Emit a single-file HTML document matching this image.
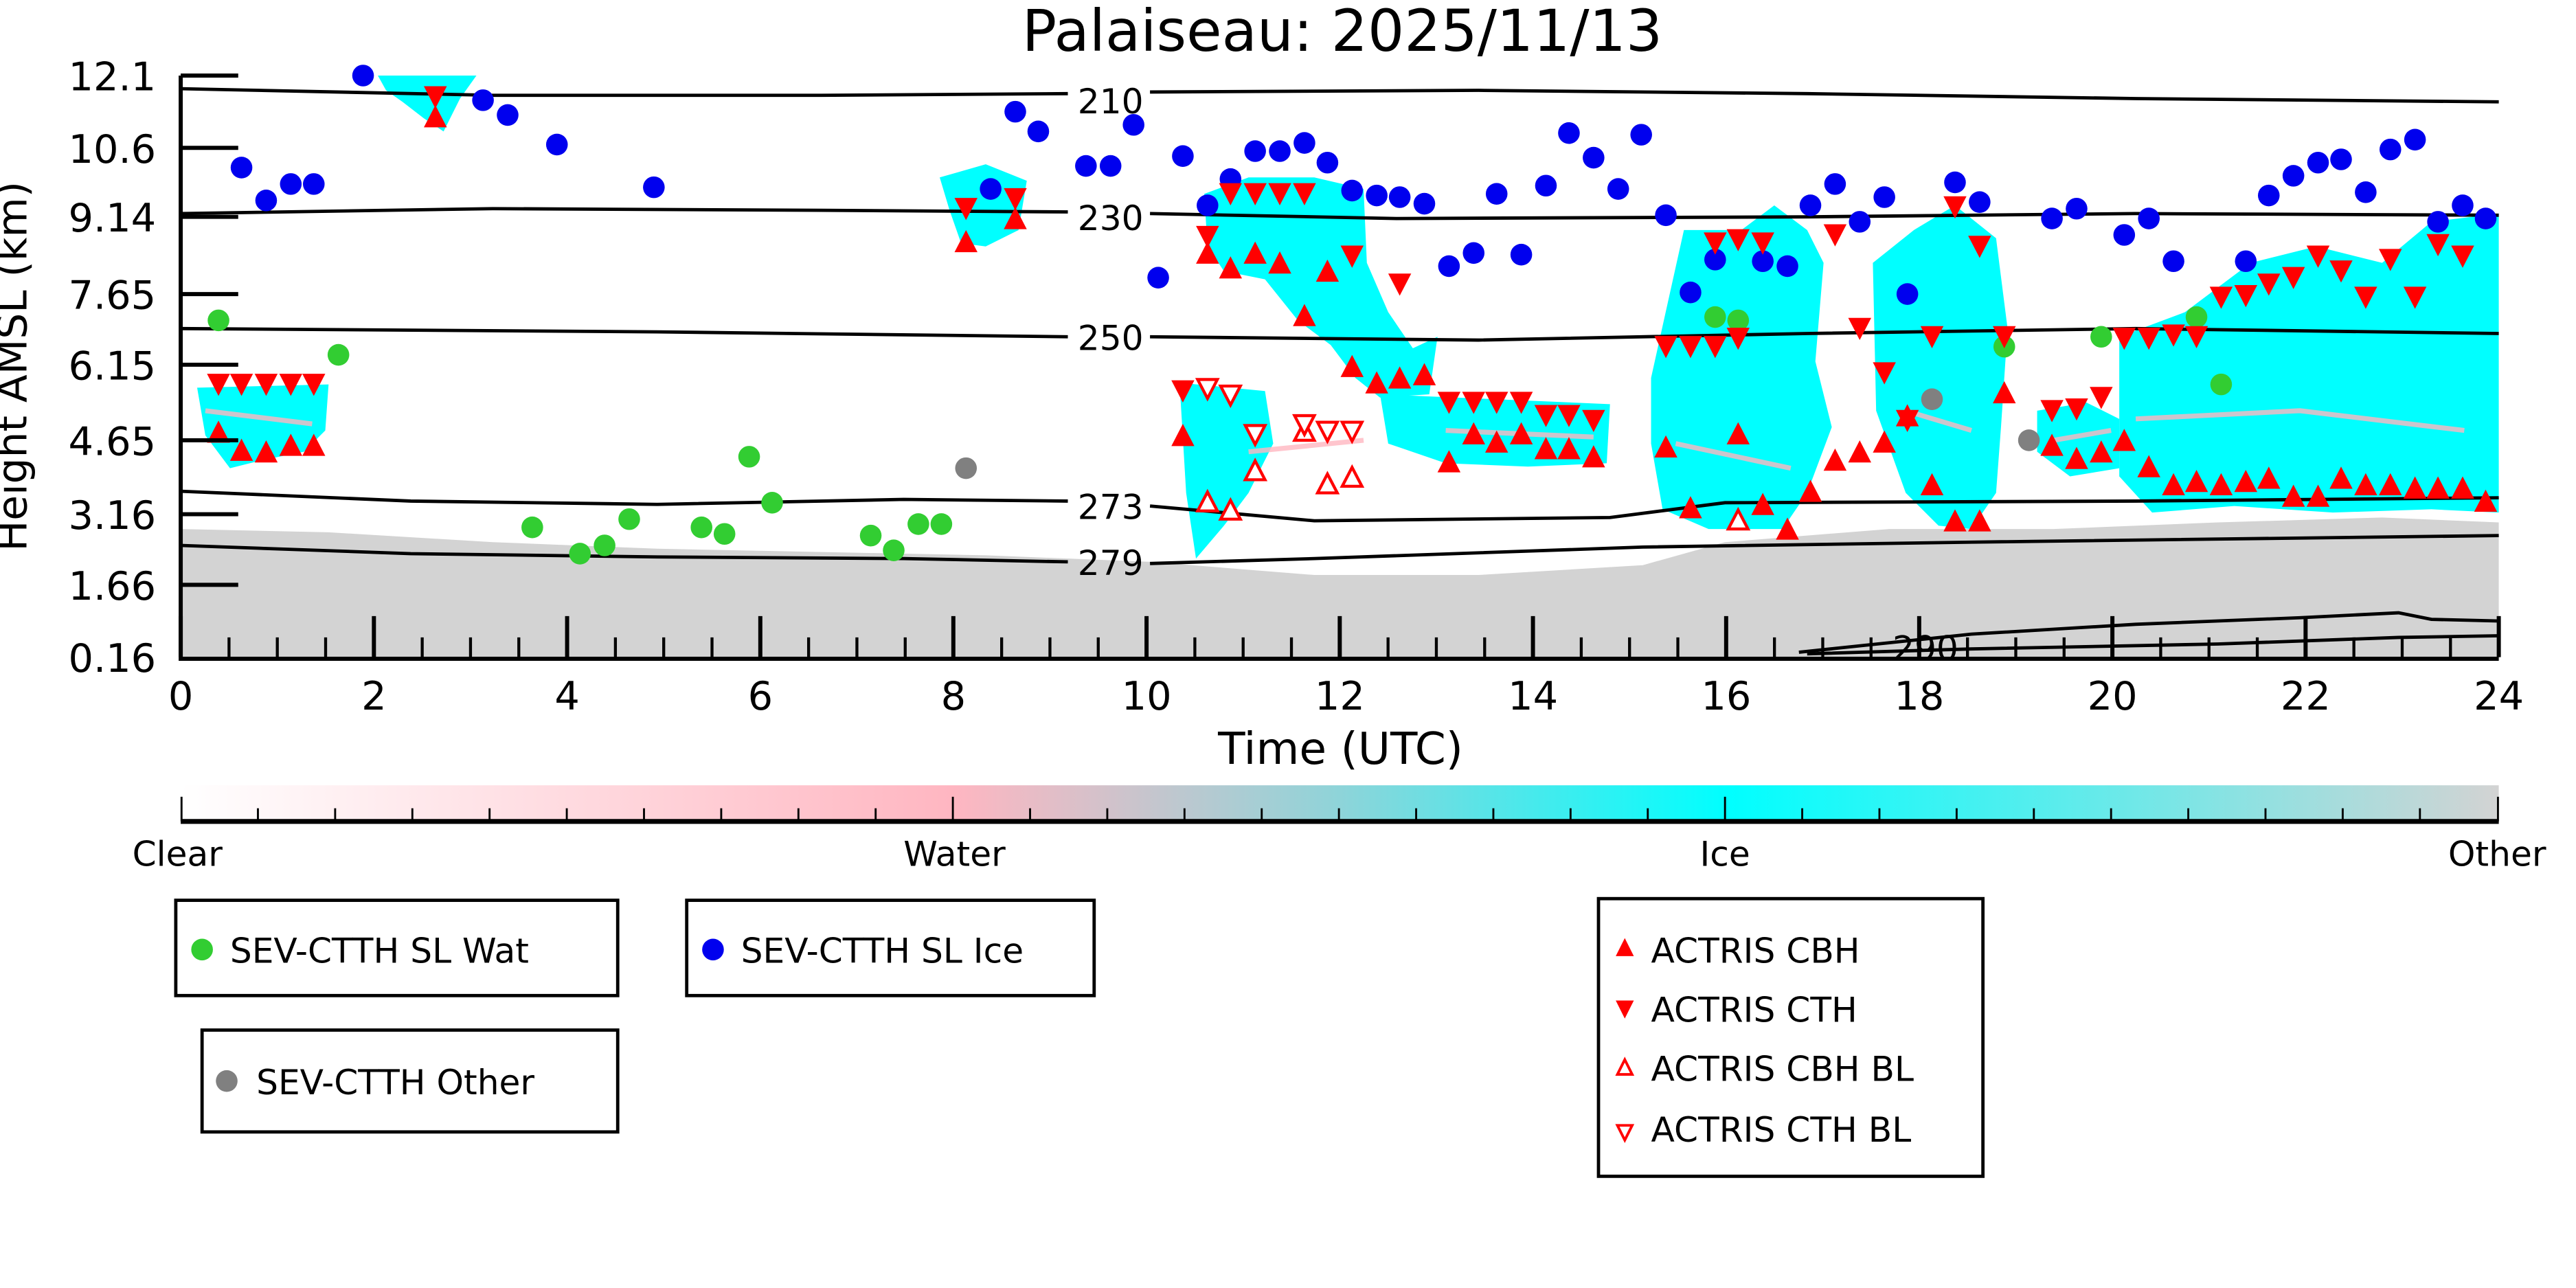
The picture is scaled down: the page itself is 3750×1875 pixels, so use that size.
<!DOCTYPE html>
<html><head><meta charset="utf-8"><style>html,body{margin:0;padding:0;background:#fff}svg{display:block}text{font-family:"DejaVu Sans","Liberation Sans",sans-serif}</style></head><body>
<svg width="3750" height="1875" viewBox="0 0 1568 784" xmlns="http://www.w3.org/2000/svg">
<defs>
<linearGradient id="cb" x1="0" x2="1" y1="0" y2="0"><stop offset="0" stop-color="#fff"/><stop offset="0.333" stop-color="#ffb6c1"/><stop offset="0.5" stop-color="#8ed4d9"/><stop offset="0.667" stop-color="#00ffff"/><stop offset="1" stop-color="#d3d3d3"/></linearGradient>
<symbol id="g" overflow="visible"><circle r="6.6" fill="#32cd32"/></symbol>
<symbol id="b" overflow="visible"><circle r="6.6" fill="#0000ee"/></symbol>
<symbol id="o" overflow="visible"><circle r="6.6" fill="#808080"/></symbol>
<symbol id="u" overflow="visible"><path d="M0,-8 L7,5.5 L-7,5.5Z" fill="red"/></symbol>
<symbol id="d" overflow="visible"><path d="M0,8 L7,-5.5 L-7,-5.5Z" fill="red"/></symbol>
<symbol id="uh" overflow="visible"><path d="M0,-6.5 L6,5 L-6,5Z" fill="#fff" stroke="red" stroke-width="1.8"/></symbol>
<symbol id="dh" overflow="visible"><path d="M0,6.5 L6,-5 L-6,-5Z" fill="#fff" stroke="red" stroke-width="1.8"/></symbol>
</defs>
<text x="817" y="31" font-size="35" text-anchor="middle">Palaiseau: 2025/11/13</text>
<path d="M110,400 L110,322 L200,324 L300,330 L400,334 L500,336 L600,338 L700,342 L800,350 L900,350 L1000,344 L1050,330 L1150,322 L1250,322 L1350,318 L1450,315 L1521,318 L1521,400Z" fill="#d3d3d3"/>
<g fill="#00ffff">
<path d="M120,236 L200,234 L198,262 L185,275 L160,280 L140,285 L125,265Z"/>
<path d="M230,46 L290,46 L280,60 L270,80 L258,72 L245,62 L235,55Z"/>
<path d="M572,108 L600,100 L625,110 L620,140 L600,150 L585,148 L578,128Z"/>
<path d="M718,233 L770,238 L775,270 L760,300 L745,320 L728,340 L722,300Z"/>
<path d="M733,118 L760,108 L800,108 L830,115 L832,160 L845,190 L860,212 L875,205 L870,240 L840,242 L825,230 L810,210 L790,195 L770,170 L745,165 L735,150Z"/>
<path d="M840,240 L980,246 L978,282 L930,284 L880,282 L845,270Z"/>
<path d="M1005,230 L1025,140 L1060,140 L1080,125 L1100,140 L1110,160 L1105,220 L1115,260 L1100,300 L1085,322 L1040,322 L1012,310 L1005,270Z"/>
<path d="M1140,160 L1165,140 L1190,125 L1215,145 L1222,200 L1218,260 L1215,300 L1200,322 L1180,320 L1160,300 L1142,250Z"/>
<path d="M1240,250 L1270,245 L1290,255 L1290,285 L1260,290 L1240,275Z"/>
<path d="M1290,205 L1330,190 L1370,160 L1410,150 L1450,160 L1480,135 L1521,130 L1521,312 L1480,310 L1420,312 L1360,308 L1310,312 L1290,290Z"/>
</g>
<g stroke="#ffb6c1" stroke-width="3" fill="none" opacity="0.8">
<path d="M125,250 L190,258"/><path d="M760,275 L830,268"/><path d="M880,262 L970,266"/><path d="M1020,270 L1090,285"/><path d="M1250,268 L1285,262"/><path d="M1300,255 L1400,250 L1500,262"/><path d="M1160,250 L1200,262"/>
</g>
<g stroke="#000" stroke-width="2" fill="none">
<path d="M110,54 L300,58 L500,58 L650,57 M700,56 L900,55 L1100,57 L1300,60 L1521,62"/>
<path d="M110,130 L300,127 L500,128 L650,129 M700,130 L850,133 L1100,132 L1300,130 L1521,131"/>
<path d="M110,200 L400,202 L650,205 M700,205 L900,207 L1100,203 L1300,200 L1521,203"/>
<path d="M110,299 L250,305 L400,307 L550,304 L650,305 M700,308 L800,317 L980,315 L1050,306 L1300,305 L1521,303"/>
<path d="M110,332 L250,337 L400,339 L550,340 L650,342 M700,343 L800,340 L1000,333 L1200,330 L1521,326"/>
<path d="M1095,397 L1200,386 L1300,380 L1400,376 L1460,373 L1480,377 L1521,378"/>
<path d="M1100,398 L1200,395 L1350,392 L1460,388 L1521,387"/>
</g>
<g font-size="21" text-anchor="middle"><text x="676" y="69">210</text><text x="676" y="140">230</text><text x="676" y="213">250</text><text x="676" y="316">273</text><text x="676" y="350">279</text><text x="1172" y="402">290</text></g>
<g>
<use href="#g" x="133" y="195"/><use href="#g" x="206" y="216"/><use href="#g" x="324" y="321"/><use href="#g" x="353" y="337"/><use href="#g" x="368" y="332"/><use href="#g" x="383" y="316"/><use href="#g" x="427" y="321"/><use href="#g" x="441" y="325"/><use href="#g" x="456" y="278"/><use href="#g" x="470" y="306"/><use href="#g" x="530" y="326"/><use href="#g" x="544" y="335"/><use href="#g" x="559" y="319"/><use href="#g" x="573" y="319"/><use href="#g" x="1044" y="193"/><use href="#g" x="1058" y="195"/><use href="#g" x="1220" y="211"/><use href="#g" x="1279" y="205"/><use href="#g" x="1337" y="193"/><use href="#g" x="1352" y="234"/>
<use href="#o" x="588" y="285"/><use href="#o" x="1176" y="243"/><use href="#o" x="1235" y="268"/>
<use href="#b" x="147" y="102"/><use href="#b" x="162" y="122"/><use href="#b" x="177" y="112"/><use href="#b" x="191" y="112"/><use href="#b" x="221" y="46"/><use href="#b" x="294" y="61"/><use href="#b" x="309" y="70"/><use href="#b" x="339" y="88"/><use href="#b" x="398" y="114"/><use href="#b" x="618" y="68"/><use href="#b" x="632" y="80"/><use href="#b" x="603" y="115"/><use href="#b" x="661" y="101"/><use href="#b" x="676" y="101"/><use href="#b" x="690" y="76"/><use href="#b" x="705" y="169"/><use href="#b" x="720" y="95"/><use href="#b" x="735" y="125"/><use href="#b" x="749" y="109"/><use href="#b" x="764" y="92"/><use href="#b" x="779" y="92"/><use href="#b" x="794" y="87"/><use href="#b" x="808" y="99"/><use href="#b" x="823" y="116"/><use href="#b" x="838" y="119"/><use href="#b" x="852" y="120"/><use href="#b" x="867" y="124"/><use href="#b" x="882" y="162"/><use href="#b" x="897" y="154"/><use href="#b" x="926" y="155"/><use href="#b" x="911" y="118"/><use href="#b" x="941" y="113"/><use href="#b" x="955" y="81"/><use href="#b" x="970" y="96"/><use href="#b" x="985" y="115"/><use href="#b" x="999" y="82"/><use href="#b" x="1014" y="131"/><use href="#b" x="1029" y="178"/><use href="#b" x="1044" y="158"/><use href="#b" x="1073" y="159"/><use href="#b" x="1088" y="162"/><use href="#b" x="1102" y="125"/><use href="#b" x="1117" y="112"/><use href="#b" x="1132" y="135"/><use href="#b" x="1147" y="120"/><use href="#b" x="1161" y="179"/><use href="#b" x="1190" y="111"/><use href="#b" x="1205" y="123"/><use href="#b" x="1249" y="133"/><use href="#b" x="1264" y="127"/><use href="#b" x="1293" y="143"/><use href="#b" x="1308" y="133"/><use href="#b" x="1323" y="159"/><use href="#b" x="1367" y="159"/><use href="#b" x="1381" y="119"/><use href="#b" x="1396" y="107"/><use href="#b" x="1411" y="99"/><use href="#b" x="1425" y="97"/><use href="#b" x="1440" y="117"/><use href="#b" x="1455" y="91"/><use href="#b" x="1470" y="85"/><use href="#b" x="1484" y="135"/><use href="#b" x="1499" y="125"/><use href="#b" x="1513" y="133"/>
<use href="#u" x="133" y="264"/><use href="#u" x="147" y="275"/><use href="#u" x="162" y="276"/><use href="#u" x="177" y="272"/><use href="#u" x="191" y="272"/><use href="#u" x="265" y="72"/><use href="#u" x="588" y="148"/><use href="#u" x="618" y="134"/><use href="#u" x="720" y="266"/><use href="#u" x="735" y="155"/><use href="#u" x="749" y="164"/><use href="#u" x="764" y="155"/><use href="#u" x="779" y="161"/><use href="#u" x="794" y="193"/><use href="#u" x="808" y="166"/><use href="#u" x="823" y="224"/><use href="#u" x="838" y="234"/><use href="#u" x="852" y="231"/><use href="#u" x="867" y="229"/><use href="#u" x="882" y="282"/><use href="#u" x="897" y="265"/><use href="#u" x="911" y="270"/><use href="#u" x="926" y="265"/><use href="#u" x="941" y="274"/><use href="#u" x="955" y="274"/><use href="#u" x="970" y="279"/><use href="#u" x="1014" y="273"/><use href="#u" x="1029" y="310"/><use href="#u" x="1058" y="265"/><use href="#u" x="1073" y="308"/><use href="#u" x="1088" y="323"/><use href="#u" x="1102" y="300"/><use href="#u" x="1117" y="281"/><use href="#u" x="1132" y="276"/><use href="#u" x="1147" y="270"/><use href="#u" x="1161" y="254"/><use href="#u" x="1176" y="296"/><use href="#u" x="1190" y="318"/><use href="#u" x="1205" y="318"/><use href="#u" x="1220" y="240"/><use href="#u" x="1249" y="272"/><use href="#u" x="1264" y="280"/><use href="#u" x="1279" y="276"/><use href="#u" x="1293" y="269"/><use href="#u" x="1308" y="285"/><use href="#u" x="1323" y="296"/><use href="#u" x="1337" y="294"/><use href="#u" x="1352" y="296"/><use href="#u" x="1367" y="294"/><use href="#u" x="1381" y="292"/><use href="#u" x="1396" y="303"/><use href="#u" x="1411" y="303"/><use href="#u" x="1425" y="292"/><use href="#u" x="1440" y="296"/><use href="#u" x="1455" y="296"/><use href="#u" x="1470" y="298"/><use href="#u" x="1484" y="298"/><use href="#u" x="1499" y="298"/><use href="#u" x="1513" y="306"/>
<use href="#d" x="133" y="233"/><use href="#d" x="147" y="233"/><use href="#d" x="162" y="233"/><use href="#d" x="177" y="233"/><use href="#d" x="191" y="233"/><use href="#d" x="265" y="58"/><use href="#d" x="588" y="126"/><use href="#d" x="618" y="120"/><use href="#d" x="720" y="237"/><use href="#d" x="735" y="143"/><use href="#d" x="749" y="117"/><use href="#d" x="764" y="117"/><use href="#d" x="779" y="117"/><use href="#d" x="794" y="117"/><use href="#d" x="823" y="155"/><use href="#d" x="852" y="172"/><use href="#d" x="882" y="244"/><use href="#d" x="897" y="244"/><use href="#d" x="911" y="244"/><use href="#d" x="926" y="244"/><use href="#d" x="941" y="252"/><use href="#d" x="955" y="252"/><use href="#d" x="970" y="255"/><use href="#d" x="1014" y="210"/><use href="#d" x="1029" y="210"/><use href="#d" x="1044" y="210"/><use href="#d" x="1058" y="205"/><use href="#d" x="1073" y="147"/><use href="#d" x="1058" y="145"/><use href="#d" x="1044" y="147"/><use href="#d" x="1117" y="142"/><use href="#d" x="1132" y="199"/><use href="#d" x="1147" y="226"/><use href="#d" x="1161" y="255"/><use href="#d" x="1176" y="204"/><use href="#d" x="1190" y="125"/><use href="#d" x="1205" y="149"/><use href="#d" x="1220" y="204"/><use href="#d" x="1249" y="249"/><use href="#d" x="1264" y="248"/><use href="#d" x="1279" y="241"/><use href="#d" x="1293" y="205"/><use href="#d" x="1308" y="205"/><use href="#d" x="1323" y="203"/><use href="#d" x="1337" y="204"/><use href="#d" x="1352" y="180"/><use href="#d" x="1367" y="179"/><use href="#d" x="1381" y="172"/><use href="#d" x="1396" y="168"/><use href="#d" x="1411" y="155"/><use href="#d" x="1425" y="164"/><use href="#d" x="1440" y="180"/><use href="#d" x="1455" y="157"/><use href="#d" x="1470" y="180"/><use href="#d" x="1484" y="148"/><use href="#d" x="1499" y="155"/>
<use href="#uh" x="735" y="306"/><use href="#uh" x="749" y="311"/><use href="#uh" x="764" y="287"/><use href="#uh" x="794" y="263"/><use href="#uh" x="808" y="295"/><use href="#uh" x="823" y="291"/><use href="#uh" x="1058" y="317"/>
<use href="#dh" x="735" y="236"/><use href="#dh" x="749" y="240"/><use href="#dh" x="764" y="264"/><use href="#dh" x="794" y="258"/><use href="#dh" x="808" y="262"/><use href="#dh" x="823" y="262"/>
</g>
<g stroke="#000" stroke-width="2.5" fill="none">
<path d="M110,46 L110,401 L1521,401"/>
<path d="M110,46 H145 M110,90 H145 M110,132 H145 M110,179 H145 M110,222 H145 M110,268 H145 M110,313 H145 M110,356 H145"/>
<path d="M110,400 V375 M227.6,400 V375 M345.2,400 V375 M462.8,400 V375 M580.3,400 V375 M697.9,400 V375 M815.5,400 V375 M933.1,400 V375 M1050.7,400 V375 M1168.2,400 V375 M1285.8,400 V375 M1403.4,400 V375 M1521,400 V375"/>
</g>
<g stroke="#000" stroke-width="1.8">
<path d="M139.4,400v-12M168.8,400v-12M198.2,400v-12M257,400v-12M286.4,400v-12M315.8,400v-12M374.6,400v-12M404,400v-12M433.4,400v-12M492.2,400v-12M521.6,400v-12M551,400v-12M609.7,400v-12M639.1,400v-12M668.5,400v-12M727.3,400v-12M756.7,400v-12M786.1,400v-12M844.9,400v-12M874.3,400v-12M903.7,400v-12M962.5,400v-12M991.9,400v-12M1021.3,400v-12M1080.1,400v-12M1109.5,400v-12M1138.9,400v-12M1197.6,400v-12M1227,400v-12M1256.4,400v-12M1315.2,400v-12M1344.6,400v-12M1374,400v-12M1432.8,400v-12M1462.2,400v-12M1491.6,400v-12"/>
</g>
<g font-size="24" text-anchor="end"><text x="95" y="55">12.1</text><text x="95" y="99">10.6</text><text x="95" y="141">9.14</text><text x="95" y="188">7.65</text><text x="95" y="231">6.15</text><text x="95" y="277">4.65</text><text x="95" y="322">3.16</text><text x="95" y="365">1.66</text><text x="95" y="409">0.16</text></g>
<text transform="translate(16,223) rotate(-90)" font-size="25" text-anchor="middle">Height AMSL (km)</text>
<g font-size="24" text-anchor="middle"><text x="110" y="432">0</text><text x="227.6" y="432">2</text><text x="345.2" y="432">4</text><text x="462.8" y="432">6</text><text x="580.3" y="432">8</text><text x="697.9" y="432">10</text><text x="815.5" y="432">12</text><text x="933.1" y="432">14</text><text x="1050.7" y="432">16</text><text x="1168.2" y="432">18</text><text x="1285.8" y="432">20</text><text x="1403.4" y="432">22</text><text x="1521" y="432">24</text></g>
<text x="816" y="465" font-size="27" text-anchor="middle">Time (UTC)</text>
<rect x="110" y="478" width="1411" height="21" fill="url(#cb)"/>
<path d="M110,500 H1521" stroke="#000" stroke-width="3"/>
<g stroke="#000" stroke-width="1.2">
<path d="M157,500v-8M204,500v-8M251,500v-8M298,500v-8M345,500v-8M392,500v-8M439,500v-8M486,500v-8M533,500v-8M627,500v-8M674,500v-8M721,500v-8M768,500v-8M815,500v-8M862,500v-8M909,500v-8M956,500v-8M1003,500v-8M1097,500v-8M1144,500v-8M1191,500v-8M1238,500v-8M1285,500v-8M1332,500v-8M1379,500v-8M1426,500v-8M1473,500v-8"/>
<path d="M110.5,500v-15M580,500v-15M1050,500v-15M1520.5,500v-15"/>
</g>
<g font-size="21" text-anchor="middle"><text x="108" y="527">Clear</text><text x="581" y="527">Water</text><text x="1050" y="527">Ice</text><text x="1520" y="527">Other</text></g>
<g fill="#fff" stroke="#000" stroke-width="2">
<rect x="107" y="548" width="269" height="58"/><rect x="418" y="548" width="248" height="58"/><rect x="123" y="627" width="253" height="62"/><rect x="973" y="547" width="234" height="169"/>
</g>
<circle cx="123" cy="578" r="6.6" fill="#32cd32"/><circle cx="434" cy="578" r="6.6" fill="#0000ee"/><circle cx="138" cy="658" r="6.6" fill="#808080"/>
<path d="M989,571 L994.5,582 L983.5,582Z" fill="red"/><path d="M989,620 L994.5,609 L983.5,609Z" fill="red"/>
<path d="M989,645 L993.5,654 L984.5,654Z" fill="#fff" stroke="red" stroke-width="1.6"/><path d="M989,694 L993.5,685 L984.5,685Z" fill="#fff" stroke="red" stroke-width="1.6"/>
<g font-size="21"><text x="140" y="586">SEV-CTTH SL Wat</text><text x="451" y="586">SEV-CTTH SL Ice</text><text x="156" y="666">SEV-CTTH Other</text><text x="1005" y="586">ACTRIS CBH</text><text x="1005" y="622">ACTRIS CTH</text><text x="1005" y="658">ACTRIS CBH BL</text><text x="1005" y="695">ACTRIS CTH BL</text></g>
</svg>
</body></html>
